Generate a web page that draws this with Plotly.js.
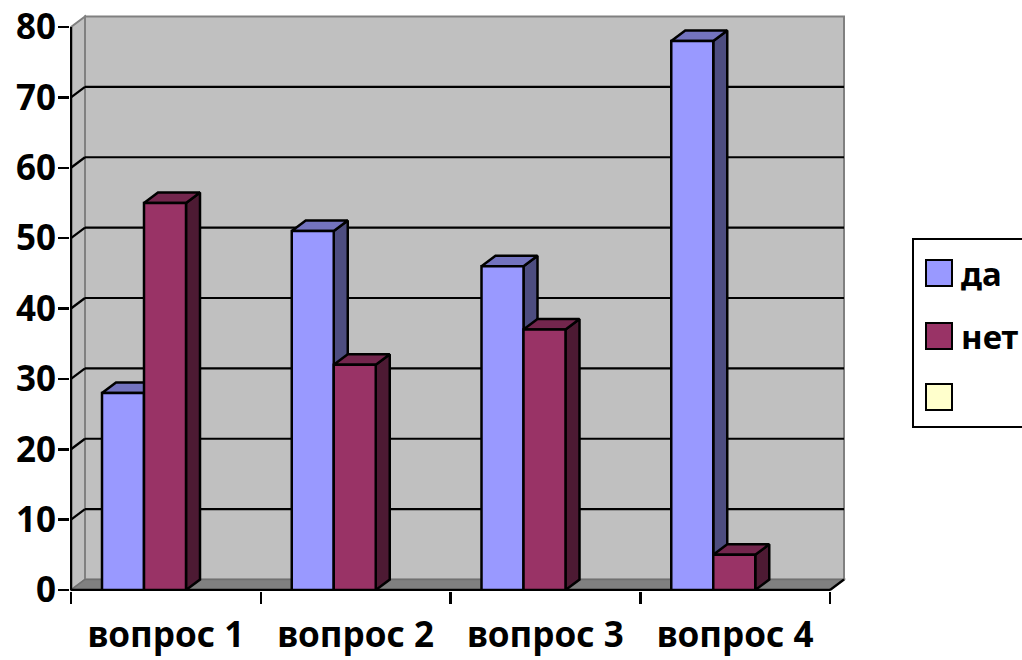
<!DOCTYPE html>
<html>
<head>
<meta charset="utf-8">
<script src="https://cdn.plot.ly/plotly-3.0.1.min.js"></script>
<style>html,body{margin:0;padding:0;background:#fff;}#chart{width:1022px;height:660px;}</style>
</head>
<body>
<div id="chart"></div>
<script>
// ---- data ----
const categories = ['вопрос 1', 'вопрос 2', 'вопрос 3', 'вопрос 4'];
const daValues = [28, 51, 46, 78];
const netValues = [55, 32, 37, 5];
const seriesNames = ['да', 'нет', ''];
const yTickValues = [0, 10, 20, 30, 40, 50, 60, 70, 80];

// ---- styling / geometry ----
const W = 1022, H = 660;
const M = {l: 70, r: 172, t: 14, b: 69};
const plotW = W - M.l - M.r, plotH = H - M.t - M.b;
const PX0 = 71, PX4 = 830;      // pixel of x=0 and x=4
const PY0 = 590, PY80 = 27;     // pixel of y=0 and y=80
const kx = (PX4 - PX0) / 4;
const ky = (PY0 - PY80) / 80;
const xr = [(M.l - PX0) / kx, (W - M.r - PX0) / kx];
const yr = [(PY0 - (H - M.b)) / ky, (PY0 - M.t) / ky];
const dx = 14 / kx, dy = 10.5 / ky;   // 3-D depth offset in data units
const barStart = 31 / kx, barW = 42 / kx;
const nCat = categories.length;
const yMax = 80;

const colors = {
  da:  {front: '#9999FF', side: '#4D4D80', top: '#7373BF'},
  net: {front: '#993366', side: '#4D1A33', top: '#73264D'},
  third: '#FFFFCC'
};
const fam = '"Noto Sans", "Open Sans", "DejaVu Sans", sans-serif';
const tickFont = {family: fam, size: 35, color: '#000', weight: 'bold'};
const legFont = {family: fam, size: 33, color: '#000', weight: 'bold'};

function px2paperX(px) { return (px - M.l) / plotW; }
function px2paperY(py) { return 1 - (py - M.t) / plotH; }

function faces(values, slot) {
  const f = {x: [], y: []}, t = {x: [], y: []}, s = {x: [], y: []};
  values.forEach(function (v, i) {
    const x0 = i + barStart + slot * barW, x1 = x0 + barW;
    f.x.push(x0, x1, x1, x0, x0, null); f.y.push(0, 0, v, v, 0, null);
    t.x.push(x0, x1, x1 + dx, x0 + dx, x0, null); t.y.push(v, v, v + dy, v + dy, v, null);
    s.x.push(x1, x1 + dx, x1 + dx, x1, x1, null); s.y.push(0, dy, v + dy, v, 0, null);
  });
  return {f: f, t: t, s: s};
}

function poly(d, color, name) {
  return {x: d.x, y: d.y, type: 'scatter', mode: 'lines', fill: 'toself', fillcolor: color,
    line: {color: '#000', width: 2.5}, hoverinfo: 'skip', showlegend: false, name: name};
}

const fd = faces(daValues, 0), fn = faces(netValues, 1);
const traces = [
  poly(fd.s, colors.da.side, seriesNames[0]), poly(fd.t, colors.da.top, seriesNames[0]), poly(fd.f, colors.da.front, seriesNames[0]),
  poly(fn.s, colors.net.side, seriesNames[1]), poly(fn.t, colors.net.top, seriesNames[1]), poly(fn.f, colors.net.front, seriesNames[1]),
  {x: [0], y: [0], xaxis: 'x2', type: 'scatter', mode: 'markers', marker: {opacity: 0}, hoverinfo: 'skip', showlegend: false}
];

// ---- background: walls, floor, gridlines, axis lines ----
const shapes = [];
function sh(o) { o.xref = o.xref || 'x'; o.yref = o.yref || 'y'; o.layer = o.layer || 'below'; shapes.push(o); }
sh({type: 'rect', x0: dx, x1: nCat + dx, y0: dy, y1: yMax + dy, fillcolor: '#C0C0C0', line: {color: '#808080', width: 2}});
sh({type: 'path', path: `M0,0 L0,${yMax} L${dx},${yMax + dy} L${dx},${dy} Z`, fillcolor: '#C0C0C0', line: {color: '#808080', width: 2}});
sh({type: 'path', path: `M0,0 L${nCat},0 L${nCat + dx},${dy} L${dx},${dy} Z`, fillcolor: '#808080', line: {color: '#707070', width: 1.5}});
yTickValues.forEach(function (v) {
  if (v === 0 || v === yMax) return;
  sh({type: 'line', x0: dx, x1: nCat + dx, y0: v + dy, y1: v + dy, line: {color: '#000', width: 2.2}});
  sh({type: 'line', x0: 0, x1: dx, y0: v, y1: v + dy, line: {color: '#000', width: 2.2}});
});
sh({type: 'line', x0: nCat, x1: nCat + dx, y0: 0, y1: dy, line: {color: '#000', width: 2.2}});
sh({type: 'line', x0: 0, x1: 0, y0: 0, y1: yMax, line: {color: '#000', width: 2.5}});
sh({type: 'line', x0: 0, x1: nCat, y0: 0, y1: 0, line: {color: '#000', width: 2.5}});

// ---- legend (drawn manually to match large swatches) ----
const legend = {left: 913, top: 239, right: 1045, bottom: 427, swX: 926, sw: 26, textX: 959, rows: [273, 336, 397]};
const legColors = [colors.da.front, colors.net.front, colors.third];
shapes.push({type: 'rect', xref: 'paper', yref: 'paper', layer: 'above',
  x0: px2paperX(legend.left), x1: px2paperX(legend.right), y0: px2paperY(legend.bottom), y1: px2paperY(legend.top),
  fillcolor: '#FFFFFF', line: {color: '#000', width: 2}});
const annotations = [];
seriesNames.forEach(function (name, i) {
  const cy = legend.rows[i];
  shapes.push({type: 'rect', xref: 'paper', yref: 'paper', layer: 'above',
    x0: px2paperX(legend.swX), x1: px2paperX(legend.swX + legend.sw),
    y0: px2paperY(cy + legend.sw / 2), y1: px2paperY(cy - legend.sw / 2),
    fillcolor: legColors[i], line: {color: '#000', width: 2}});
  if (name) annotations.push({xref: 'paper', yref: 'paper', x: px2paperX(legend.textX), y: px2paperY(cy),
    xanchor: 'left', yanchor: 'middle', text: name, showarrow: false, font: legFont});
});

const layout = {
  width: W, height: H,
  margin: {l: M.l, r: M.r, t: M.t, b: M.b, autoexpand: false},
  paper_bgcolor: '#FFFFFF', plot_bgcolor: 'rgba(0,0,0,0)',
  showlegend: false,
  xaxis: {range: xr, tickmode: 'array', tickvals: categories.map(function (c, i) { return i + 0.5; }), ticktext: categories,
    ticks: '', showgrid: false, zeroline: false, showline: false, tickfont: tickFont, ticklabelstandoff: 20, fixedrange: true},
  xaxis2: {overlaying: 'x', anchor: 'y', side: 'bottom', range: xr, tickmode: 'array',
    tickvals: categories.map(function (c, i) { return i; }).concat([nCat]),
    ticks: 'outside', ticklen: 12, tickwidth: 2.5, tickcolor: '#000', showticklabels: false,
    showgrid: false, zeroline: false, showline: false, fixedrange: true},
  yaxis: {range: yr, tickmode: 'array', tickvals: yTickValues, ticks: 'outside', ticklen: 11, tickwidth: 2.5, tickcolor: '#000',
    showgrid: false, zeroline: false, showline: false, tickfont: tickFont, ticklabelstandoff: -5, fixedrange: true},
  shapes: shapes,
  annotations: annotations
};

Plotly.newPlot('chart', traces, layout, {staticPlot: true, displayModeBar: false});
</script>
</body>
</html>
